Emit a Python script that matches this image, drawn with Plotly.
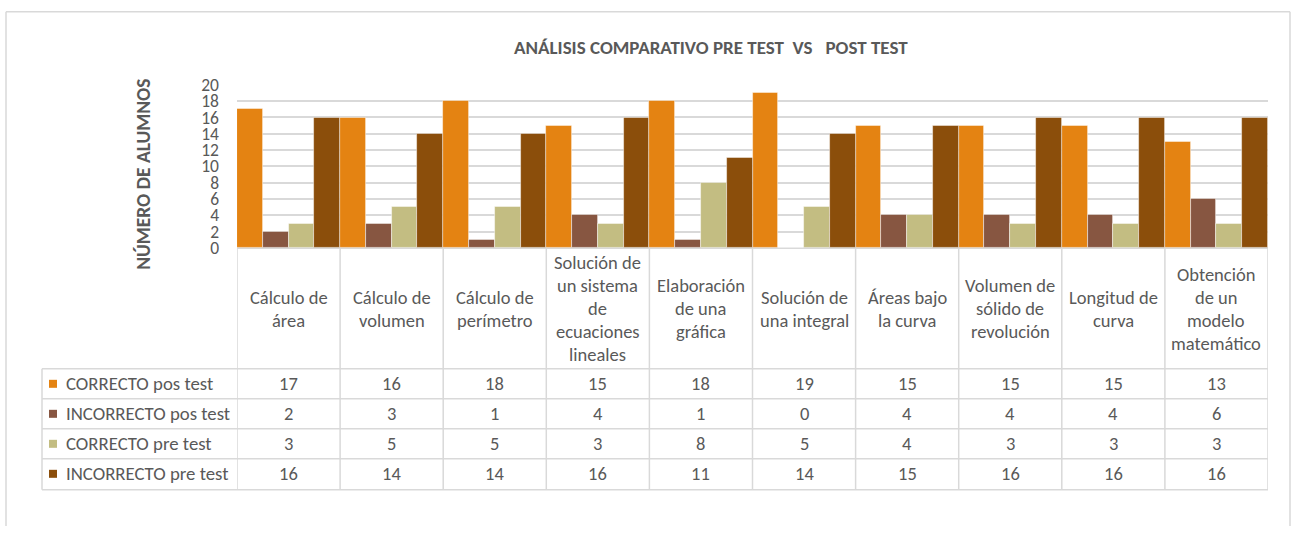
import plotly.graph_objects as go

categories = [
    "Cálculo de\nárea",
    "Cálculo de\nvolumen",
    "Cálculo de\nperímetro",
    "Solución de\nun sistema\nde\necuaciones\nlineales",
    "Elaboración\nde una\ngráfica",
    "Solución de\nuna integral",
    "Áreas bajo\nla curva",
    "Volumen de\nsólido de\nrevolución",
    "Longitud de\ncurva",
    "Obtención\nde un\nmodelo\nmatemático",
]
series_names = ["CORRECTO pos test", "INCORRECTO pos test", "CORRECTO pre test", "INCORRECTO pre test"]
correcto_pos = [17, 16, 18, 15, 18, 19, 15, 15, 15, 13]
incorrecto_pos = [2, 3, 1, 4, 1, 0, 4, 4, 4, 6]
correcto_pre = [3, 5, 5, 3, 8, 5, 4, 3, 3, 3]
incorrecto_pre = [16, 14, 14, 16, 11, 14, 15, 16, 16, 16]
y_ticks = [0, 2, 4, 6, 8, 10, 12, 14, 16, 18, 20]

series_values = [correcto_pos, incorrecto_pos, correcto_pre, incorrecto_pre]
colors = ["#E48312", "#875641", "#C3BD82", "#8B4E0B"]

W, H = 1296, 537
# the photographed page shows the figure slightly compressed vertically;
# pixel targets are mapped back so they land where intended
V_OFF, V_SCALE = 10.2, 0.959
def px(p):
    return p / W
def py(p):
    yy = (p - V_OFF) / V_SCALE
    return 1 - yy / H

FONT = "Carlito, Calibri, Lato, sans-serif"
TXT = "#595959"
GRID = "#D9D9D9"
FS = 18.5

xs = list(range(len(categories)))
fig = go.Figure()
for name, vals, col in zip(series_names, series_values, colors):
    fig.add_trace(go.Bar(x=xs, y=vals, name=name,
                         marker=dict(color=col, line=dict(width=0.8, color="rgba(255,255,255,0.6)"))))

shapes = []
annotations = []

# outer frame (left, top, right edges)
top_y = 0.9985
for (x0, y0, x1, y1) in [(px(6), top_y, px(1290), top_y), (px(6), top_y, px(6), 0), (px(1290), top_y, px(1290), 0)]:
    shapes.append(dict(type="line", xref="paper", yref="paper", x0=x0, x1=x1, y0=y0, y1=y1,
                       line=dict(color=GRID, width=1.5), layer="below"))

# table lines
row_lines = [368, 398, 428, 458, 489]
for r in row_lines:
    shapes.append(dict(type="line", xref="paper", yref="paper", x0=px(42), x1=px(1268), y0=py(r), y1=py(r),
                       line=dict(color=GRID, width=1.5)))
for i in range(len(categories) + 1):
    shapes.append(dict(type="line", xref="x", yref="paper", x0=i - 0.5, x1=i - 0.5, y0=py(247), y1=py(489),
                       line=dict(color=GRID, width=1.5)))
shapes.append(dict(type="line", xref="paper", yref="paper", x0=px(42), x1=px(42), y0=py(368), y1=py(489),
                   line=dict(color=GRID, width=1.5)))

# header labels
header_center = 308
spacing = 23
for i, cat in enumerate(categories):
    lines = cat.split("\n")
    n = len(lines)
    for k, ln in enumerate(lines):
        yy = header_center + (k - (n - 1) / 2) * spacing
        annotations.append(dict(x=i, y=py(yy), xref="x", yref="paper", text=ln, showarrow=False,
                                xanchor="center", yanchor="middle", font=dict(family=FONT, size=FS, color=TXT)))

# data rows
row_centers = [383, 413, 443, 473]
for r, (name, vals, col) in enumerate(zip(series_names, series_values, colors)):
    yc = row_centers[r]
    shapes.append(dict(type="rect", xref="paper", yref="paper", x0=px(49), x1=px(57), y0=py(yc + 4), y1=py(yc - 4),
                       line=dict(width=0), fillcolor=col))
    annotations.append(dict(x=px(64), y=py(yc), xref="paper", yref="paper", text=name, showarrow=False,
                            xanchor="left", yanchor="middle", font=dict(family=FONT, size=18.8, color=TXT)))
    for i, v in enumerate(vals):
        annotations.append(dict(x=i, y=py(yc), xref="x", yref="paper", text=str(v), showarrow=False,
                                xanchor="center", yanchor="middle", font=dict(family=FONT, size=FS, color=TXT)))

# title
annotations.append(dict(x=px(711), y=py(47), xref="paper", yref="paper",
                        text="<b>ANÁLISIS COMPARATIVO PRE TEST \u00a0VS \u00a0\u00a0POST TEST</b>",
                        showarrow=False, xanchor="center", yanchor="middle",
                        font=dict(family=FONT, size=19, color=TXT)))
# y-axis title
annotations.append(dict(x=px(143), y=py(174), xref="paper", yref="paper", text="<b>NÚMERO DE ALUMNOS</b>",
                        textangle=-90, showarrow=False, xanchor="center", yanchor="middle",
                        font=dict(family=FONT, size=19.5, color=TXT)))

fig.update_layout(
    width=W, height=H,
    margin=dict(l=0, r=0, t=0, b=0),
    paper_bgcolor="white", plot_bgcolor="white",
    barmode="group", bargap=0, bargroupgap=0,
    showlegend=False,
    xaxis=dict(domain=[px(237), px(1268)], range=[-0.5, len(categories) - 0.5], showticklabels=False,
               showgrid=False, zeroline=False, showline=False, ticks=""),
    yaxis=dict(domain=[py(247), py(84)], range=[0, 20], tickvals=y_ticks, showgrid=True, gridcolor=GRID,
               gridwidth=2, zeroline=True, zerolinecolor=GRID, zerolinewidth=2, showline=False,
               ticks="", ticklabelstandoff=17,
               tickfont=dict(family=FONT, size=17.5, color=TXT, weight=300)),
    shapes=shapes, annotations=annotations,
)

page_fix = (
    "document.documentElement.style.margin='0';"
    "document.body.style.margin='0';"
    "document.body.style.overflow='hidden';"
)

fig.write_html("out.html", config={"displayModeBar": False, "responsive": False}, post_script=page_fix)
